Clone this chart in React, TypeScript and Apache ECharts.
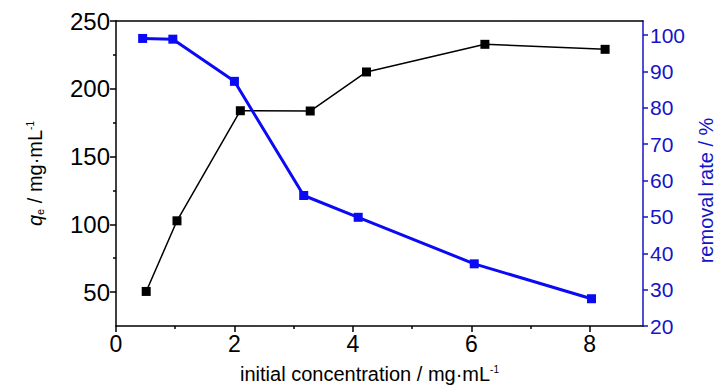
import React, { useEffect, useRef } from "react";
import * as echarts from "echarts";

// black series: adsorption capacity q_e
const concQ = [0.51, 1.03, 2.1, 3.28, 4.23, 6.23, 8.26];
const qe = [50.5, 102.6, 183.8, 183.6, 212.4, 232.8, 229.1];
// blue series: removal rate
const concR = [0.45, 0.96, 2.0, 3.17, 4.09, 6.05, 8.03];
const removal = [99.1, 98.9, 87.3, 55.9, 49.9, 37.1, 27.5];

const xLabels = [0, 2, 4, 6, 8];
const xMinor = [1, 3, 5, 7];
const yLeftLabels = [50, 100, 150, 200, 250];
const yLeftMinor = [75, 125, 175, 225];
const yRightLabels = [20, 30, 40, 50, 60, 70, 80, 90, 100];

const BLUE_AXIS = "#1414c8";
const BLUE_SERIES = "#0a0af5";
const FONT = "'Liberation Sans', Arial, sans-serif";

export default function App() {
  const ref = useRef<HTMLDivElement>(null);
  useEffect(() => {
    if (!ref.current) return;
    const chart = echarts.init(ref.current, null, { renderer: "svg" });
    const X_MIN = 0, X_MAX = 8.9;
    const YL_MIN = 25, YL_MAX = 250;
    const YR_MIN = 20, YR_MAX = 103.9;
    chart.setOption({
      animation: false,
      backgroundColor: "#ffffff",
      grid: { left: 116, right: 85, top: 21, bottom: 64, containLabel: false },
      xAxis: [
        {
          type: "value",
          position: "bottom",
          min: X_MIN,
          max: X_MAX,
          axisLine: { show: true, onZero: false, lineStyle: { color: "#000", width: 1.5 } },
          axisTick: { show: true, inside: false, length: 6, customValues: xLabels, lineStyle: { color: "#000", width: 1.5 } },
          axisLabel: { customValues: xLabels, color: "#000", fontFamily: FONT, fontSize: 23, margin: 6 },
          splitLine: { show: false },
          name: "initial concentration / mg·mL{sup|-1}",
          nameLocation: "middle",
          nameGap: 38,
          nameTextStyle: {
            color: "#000",
            fontFamily: FONT,
            fontSize: 20,
            padding: [0, 20, 0, 0],
            rich: {
              sup: { fontSize: 10, fontFamily: FONT, verticalAlign: "top", color: "#000" },
            },
          },
        },
        {
          type: "value",
          position: "top",
          min: X_MIN,
          max: X_MAX,
          axisLine: { show: true, onZero: false, lineStyle: { color: "#000", width: 1.5 } },
          axisTick: { show: false },
          axisLabel: { show: false },
          splitLine: { show: false },
        },
        {
          type: "value",
          position: "bottom",
          min: X_MIN,
          max: X_MAX,
          axisLine: { show: false, onZero: false },
          axisTick: { show: true, inside: false, length: 3, customValues: xMinor, lineStyle: { color: "#000", width: 1.5 } },
          axisLabel: { show: false },
          splitLine: { show: false },
        },
      ],
      yAxis: [
        {
          type: "value",
          position: "left",
          min: YL_MIN,
          max: YL_MAX,
          axisLine: { show: true, onZero: false, lineStyle: { color: "#000", width: 1.5 } },
          axisTick: { show: true, inside: false, length: 6, customValues: yLeftLabels, lineStyle: { color: "#000", width: 1.5 } },
          axisLabel: { customValues: yLeftLabels, color: "#000", fontFamily: FONT, fontSize: 24, margin: 6 },
          splitLine: { show: false },
          name: "{q|q}{sub|e} / mg·mL{sup|-1}",
          nameLocation: "middle",
          nameGap: 71,
          nameTextStyle: {
            color: "#000",
            fontFamily: FONT,
            fontSize: 20,
            rich: {
              q: { fontStyle: "italic", fontSize: 20, fontFamily: FONT, color: "#000" },
              sub: { fontSize: 11, fontFamily: FONT, verticalAlign: "bottom", color: "#000" },
              sup: { fontSize: 10, fontFamily: FONT, verticalAlign: "top", color: "#000" },
            },
          },
        },
        {
          type: "value",
          position: "right",
          min: YR_MIN,
          max: YR_MAX,
          axisLine: { show: true, onZero: false, lineStyle: { color: BLUE_AXIS, width: 1.5 } },
          axisTick: { show: true, inside: false, length: 5, customValues: yRightLabels, lineStyle: { color: BLUE_AXIS, width: 1.5 } },
          axisLabel: { customValues: yRightLabels, color: BLUE_AXIS, fontFamily: FONT, fontSize: 21, margin: 7 },
          splitLine: { show: false },
          name: "removal rate / %",
          nameLocation: "middle",
          nameGap: 50,
          nameTextStyle: {
            color: BLUE_AXIS,
            fontFamily: FONT,
            fontSize: 20,
            padding: [0, 34, 0, 0],
          },
        },
        {
          type: "value",
          position: "left",
          min: YL_MIN,
          max: YL_MAX,
          axisLine: { show: false, onZero: false },
          axisTick: { show: true, inside: false, length: 3, customValues: yLeftMinor, lineStyle: { color: "#000", width: 1.5 } },
          axisLabel: { show: false },
          splitLine: { show: false },
        },
      ],
      series: [
        {
          type: "line",
          name: "qe",
          xAxisIndex: 0,
          yAxisIndex: 0,
          data: concQ.map((x, i) => [x, qe[i]]),
          symbol: "rect",
          symbolSize: 9,
          lineStyle: { color: "#000", width: 1.5 },
          itemStyle: { color: "#000" },
          z: 2,
        },
        {
          type: "line",
          name: "removal",
          xAxisIndex: 0,
          yAxisIndex: 1,
          data: concR.map((x, i) => [x, removal[i]]),
          symbol: "rect",
          symbolSize: 9,
          lineStyle: { color: BLUE_SERIES, width: 3 },
          itemStyle: { color: BLUE_SERIES },
          z: 3,
        },
      ],
    });
    return () => chart.dispose();
  }, []);
  return (
    <div style={{ position: "absolute", left: 0, top: 0 }}>
      <div ref={ref} style={{ width: 728, height: 390 }} />
    </div>
  );
}
